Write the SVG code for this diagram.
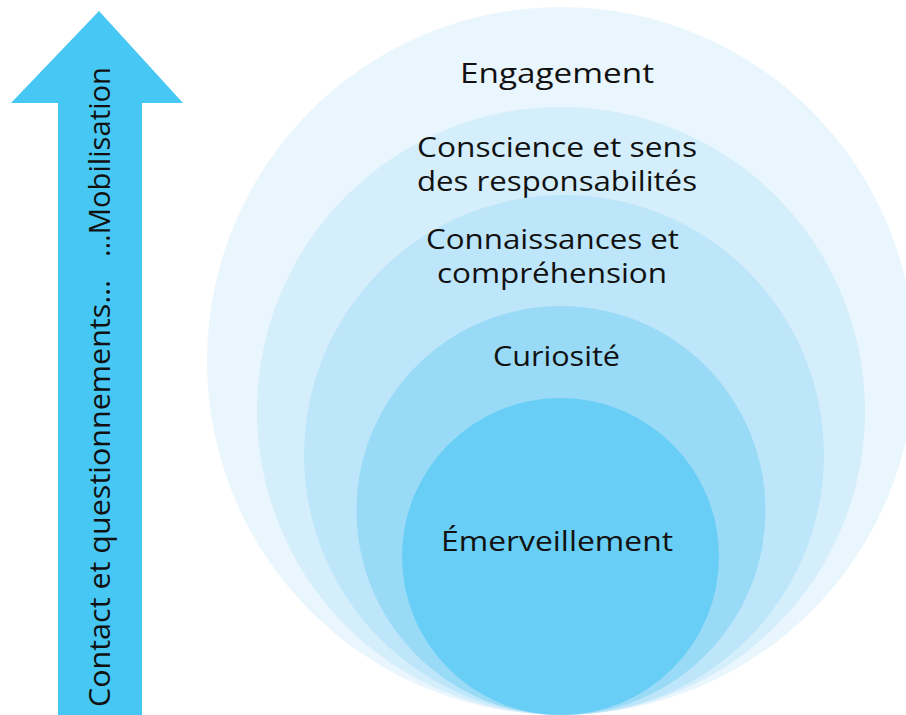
<svg xmlns="http://www.w3.org/2000/svg" width="906" height="715" viewBox="0 0 906 715">
<style>
  .lbl { font-family: "Open Sans", "Noto Sans", "DejaVu Sans", sans-serif; font-size: 27px; fill: #111111; }
  .vlbl { font-family: "Open Sans", "Noto Sans", "DejaVu Sans", sans-serif; font-size: 30px; fill: #111111; }
</style>
<rect width="906" height="715" fill="#ffffff"/>
<g id="engagement">
  <circle cx="561" cy="361" r="354" fill="#eaf6fd"/>
  <text class="lbl" x="557" y="83" text-anchor="middle" textLength="194" lengthAdjust="spacingAndGlyphs">Engagement</text>
</g>
<g id="conscience">
  <circle cx="561" cy="411" r="304" fill="#d4eefb"/>
  <text class="lbl" x="557" y="157" text-anchor="middle" textLength="280" lengthAdjust="spacingAndGlyphs">Conscience et sens</text>
  <text class="lbl" x="557" y="191" text-anchor="middle" textLength="280" lengthAdjust="spacingAndGlyphs">des responsabilités</text>
</g>
<g id="connaissances">
  <circle cx="564" cy="455" r="260" fill="#bde6fa"/>
  <text class="lbl" x="552.5" y="249" text-anchor="middle" textLength="253" lengthAdjust="spacingAndGlyphs">Connaissances et</text>
  <text class="lbl" x="552" y="283" text-anchor="middle" textLength="230" lengthAdjust="spacingAndGlyphs">compréhension</text>
</g>
<g id="curiosite">
  <circle cx="561" cy="510.5" r="204.5" fill="#99daf7"/>
  <text class="lbl" x="556.5" y="366" text-anchor="middle" textLength="127" lengthAdjust="spacingAndGlyphs">Curiosité</text>
</g>
<g id="emerveillement">
  <circle cx="560.5" cy="556.5" r="158.5" fill="#69cef6"/>
  <text class="lbl" x="557" y="551" text-anchor="middle" textLength="232" lengthAdjust="spacingAndGlyphs">Émerveillement</text>
</g>
<g id="arrow">
  <polygon points="99,11 183,103 142,103 142,715 58,715 58,103 11,103" fill="#47c7f4"/>
  <text class="vlbl" transform="translate(110,707) rotate(-90)" x="0" y="0" textLength="427" lengthAdjust="spacingAndGlyphs">Contact et questionnements…</text>
  <text class="vlbl" transform="translate(110,257) rotate(-90)" x="0" y="0" textLength="190" lengthAdjust="spacingAndGlyphs">…Mobilisation</text>
</g>
</svg>
